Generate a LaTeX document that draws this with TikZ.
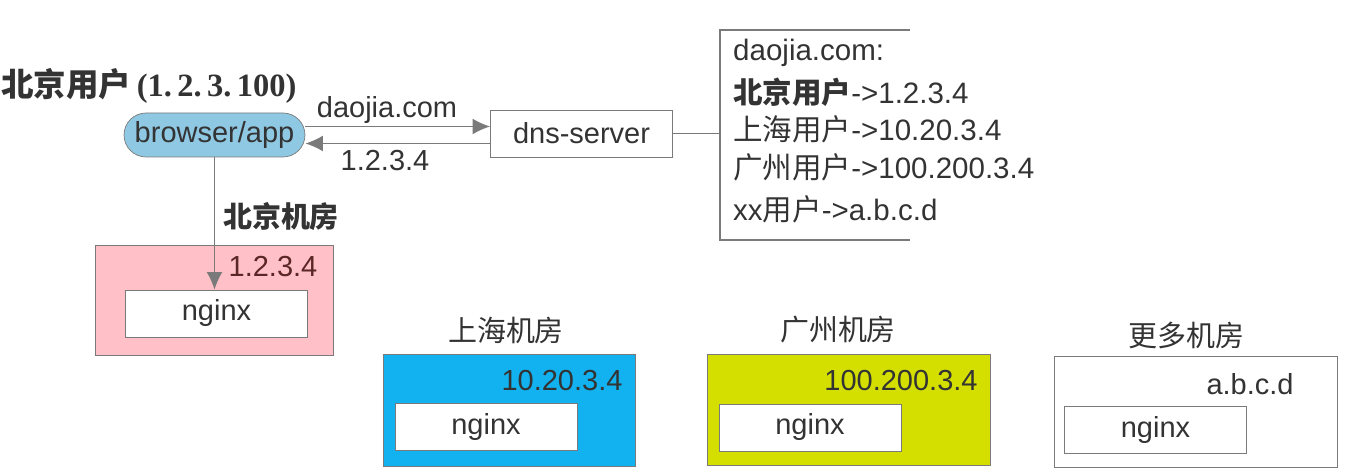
\documentclass[tikz,border=0pt]{standalone}
\usepackage{fontspec}
\setmainfont{Liberation Sans}
\newfontfamily\cjk{Noto Sans CJK SC}
\newfontfamily\titleserif{Liberation Serif}
\usetikzlibrary{arrows.meta}
\definecolor{txtgray}{HTML}{333333}
\definecolor{linegray}{HTML}{7A7A7A}
\definecolor{appblue}{HTML}{8FC8E2}
\definecolor{bjpink}{HTML}{FFC0C7}
\definecolor{bjred}{HTML}{5A2626}
\definecolor{shcyan}{HTML}{12B2F0}
\definecolor{gzyellow}{HTML}{D4DF00}
\begin{document}
\begin{tikzpicture}[x=0.02cm,y=-0.02cm,
		every node/.style={font=\fontsize{16.5}{19}\selectfont, text=txtgray},
		tabline/.style={anchor=west, font=\fontsize{16.8}{19}\selectfont},
		srvbox/.style={draw=linegray, fill=white, inner sep=0pt, minimum width=3.64cm, minimum height=0.94cm},
		roombox/.style={draw=linegray, inner sep=0pt},
		arr/.style={draw=linegray, thick, -{Latex[length=10pt,width=9pt]}}]
				\useasboundingbox (0,0) rectangle (1349,472);
				
				%user and dns
				\node (user) at (1, 86) [anchor=west, inner xsep=0pt, font=\fontsize{18.5}{22}\selectfont]{\cjk\bfseries 北京用户\,\titleserif(1.\,2.\,3.\,100)};
				\node (browser) at (214.5, 135) [draw=linegray, fill=appblue, rounded corners=0.44cm, inner sep=0pt, minimum width=3.62cm, minimum height=0.88cm]{browser/app};
				\node (dns) at (581.5, 133.5) [srvbox]{dns-server};
				\draw[arr] ([yshift=0.17cm]browser.east) -- ([yshift=0.17cm]browser.east -| dns.west);
				\draw[arr] ([yshift=-0.17cm]browser.east -| dns.west) -- ([yshift=-0.17cm]browser.east);
				\node (query) at (387, 110){daojia.com};
				\node (answer) at (385, 161){1.2.3.4};
				
				%dns table
				\coordinate (brk) at (720, 133.5);
				\coordinate (brktop) at (910, 30);
				\coordinate (brkbot) at (910, 240);
				\draw[linegray, thick] (dns.east) -- (brk);
				\draw[linegray, thick] (brktop) -- (720, 30) -- (720, 240) -- (brkbot);
				\node (tab0) at (727, 53) [tabline]{daojia.com:};
				\node (tab1) at (727, 92) [tabline]{{\cjk\bfseries 北京用户}->1.2.3.4};
				\node (tab2) at (727, 129) [tabline]{{\cjk 上海用户}->10.20.3.4};
				\node (tab3) at (727, 167) [tabline]{{\cjk 广州用户}->100.200.3.4};
				\node (tab4) at (727, 209) [tabline]{xx{\cjk 用户}->a.b.c.d};
				
				%beijing
				\node (bjroom) at (214, 300) [roombox, fill=bjpink, minimum width=4.76cm, minimum height=2.2cm]{};
				\node (bjip) at (273, 267) [text=bjred]{1.2.3.4};
				\node (bjnginx) at (216.5, 313.5) [srvbox]{nginx};
				\draw[arr] (browser.south) -- (browser.south |- bjnginx.north);
				\node (bjname) at (281, 217){\cjk\bfseries 北京机房};
				
				%shanghai
				\node (shname) at (506, 330){\cjk 上海机房};
				\node (shroom) at (509, 410) [roombox, fill=shcyan, minimum width=5.04cm, minimum height=2.24cm]{};
				\node (ship) at (562, 381){10.20.3.4};
				\node (shnginx) at (486, 427) [srvbox]{nginx};
				
				%guangzhou
				\node (gzname) at (838, 330){\cjk 广州机房};
				\node (gzroom) at (848.5, 409.5) [roombox, fill=gzyellow, minimum width=5.66cm, minimum height=2.22cm]{};
				\node (gzip) at (901, 381){100.200.3.4};
				\node (gznginx) at (810, 427.5) [srvbox]{nginx};
				
				%more
				\node (morename) at (1186, 335){\cjk 更多机房};
				\node (moreroom) at (1195.5, 411.5) [roombox, fill=white, minimum width=5.66cm, minimum height=2.22cm]{};
				\node (moreip) at (1250, 384){a.b.c.d};
				\node (morenginx) at (1155.5, 430) [srvbox]{nginx};
			\end{tikzpicture}
\end{document}
